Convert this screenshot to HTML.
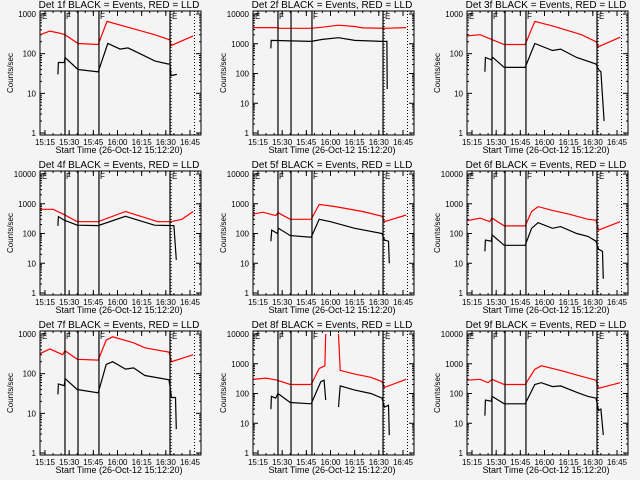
<!DOCTYPE html>
<html><head><meta charset="utf-8">
<style>
html,body{margin:0;padding:0;background:#f4f4f4;}
svg{display:block;font-family:"Liberation Sans",sans-serif;}
</style></head>
<body>
<svg id="chart" width="640" height="480" viewBox="0 0 640 480" xmlns="http://www.w3.org/2000/svg">
<rect x="0" y="0" width="640" height="480" fill="#f4f4f4"/>
</svg>
<script>
// time in minutes relative to 15:15
const panelNames = ["Det 1f","Det 2f","Det 3f","Det 4f","Det 5f","Det 6f","Det 7f","Det 8f","Det 9f"];
const panelDecades = [3,4,3,4,4,4,3,4,4];
const xTickLabels = ["15:15","15:30","15:45","16:00","16:15","16:30","16:45"];
const xTickTimes = [0,15,30,45,60,75,90];
const solidLineTimes = [12.4,20.5,33.5,77.6];
const dottedLineTimes = [78.3,92.8];
const redTimes = [
 [-3,3,9,12.4,20.5,33,38.5,52.8,68,76.5,77.6,78.2,92],
 [-3,12,12.4,33,40,50,60,65,78,92],
 [-3,5,12,20,33,39,50,68,77,78.5,92],
 [-3,5,12,20,33,50,70,78,85,92],
 [-3,3,11,12.4,20,33,38,48,65,77,78.5,92],
 [-3,5,11,12.4,20,33,37,41,50,60,72,77,78.5,92],
 [-3,3,11,12.4,20,33,38,42,55,62,77,78.5,92],
 [-3,5,12,20,33,38,41.5,42,null,50,51,60,70,77,78.5,92],
 [-3,5,10,12.4,20,33,39,43,55,68,77,78.5,92]
];
const redValues = [
 [300,370,330,300,180,170,650,450,300,230,220,160,280],
 [3500,3500,3300,3300,3600,4200,3800,3400,3300,3500],
 [280,300,230,170,170,650,500,300,200,150,260],
 [650,650,430,250,250,550,250,250,300,550],
 [450,520,400,500,300,300,950,800,550,380,250,420],
 [270,330,250,330,180,180,550,800,600,450,300,280,130,250],
 [320,420,300,380,230,220,700,850,600,450,350,200,300],
 [300,330,280,200,200,700,850,10000,null,10000,600,450,350,250,160,300],
 [280,300,230,300,200,200,650,850,600,380,280,150,230]
];
const blackTimes = [
 [8,8.3,12,12.4,20.5,33,39,46.6,51.5,59,68.3,76.4,77.6,78.2,81.9],
 [8,8.2,33,40,50,60,78,80,80.2],
 [8,8.3,12,13,20,33,39,50,55,65,77,78.5,80,82],
 [8,8.3,12,20,33,50,68,80,81.5],
 [8,8.5,12,12.8,20,33,38,45,60,77,78.5,81,81.5],
 [8,8.3,12,12.5,20,33,37,41,50,55,65,72,77,78.5,81,81.5],
 [8,8.3,12,12.5,20,33,38,42,50,55,62,77,78.5,81,81.5],
 [8,8.3,11,12.4,20,33,39,41,42,null,50,51,60,70,77,78.5,81,81.5],
 [8,8.3,12,12.5,20,33,39,43,50,55,65,72,77,78.5,80,81.5]
];
const blackValues = [
 [30,60,60,80,40,35,180,130,140,100,65,55,55,28,30],
 [700,1300,1200,1400,1600,1300,1200,1200,30],
 [35,80,70,80,45,45,180,120,130,80,55,40,35,2],
 [180,370,280,190,185,380,190,185,13],
 [55,130,100,150,85,75,300,250,150,100,60,55,10],
 [25,60,55,90,40,40,150,230,150,170,100,80,55,30,25,3],
 [30,55,50,75,40,33,170,200,130,140,90,70,25,25,4],
 [30,80,70,100,50,45,250,280,60,null,35,180,130,100,70,35,40,4],
 [18,60,55,80,45,45,200,230,170,180,110,80,70,27,30,4]
];

const NS="http://www.w3.org/2000/svg";
const svg=document.getElementById('chart');
function mk(tag,attrs,parent){const e=document.createElementNS(NS,tag);for(const k in attrs)e.setAttribute(k,attrs[k]);(parent||svg).appendChild(e);return e;}
const colOff=[0,213,427], rowOff=[0,160,320];
const BL=40,BR=201,BT=11,BB=135;
function xScale(t){return 45+t*1.611;}
function yScale(v,dec){return 133-Math.log10(v)*(119/dec);}
function pathFrom(ts,vs,dec){
  let d="",pen=false;
  for(let i=0;i<ts.length;i++){
    if(ts[i]===null||vs[i]===null){pen=false;continue;}
    const x=xScale(ts[i]).toFixed(1),y=Math.max(BT,Math.min(BB,yScale(vs[i],dec))).toFixed(1);
    d+=(pen?"L":"M")+x+" "+y+" ";pen=true;
  }
  return d;
}
for(let p=0;p<9;p++){
  const dec=panelDecades[p];
  const g=mk('g',{transform:`translate(${colOff[p%3]},${rowOff[Math.floor(p/3)]})`});
  
  
  const title=mk('text',{x:119,y:8,'font-size':'10','text-anchor':'middle',fill:'#000'},g);
  title.textContent=panelNames[p]+" BLACK = Events, RED = LLD";
  
  
  const yl=mk('text',{x:0,y:0,'font-size':'8','text-anchor':'middle',transform:'translate(13,73) rotate(-90)'},g);
  yl.textContent="Counts/sec";
  
  
  const xl=mk('text',{x:119,y:153,'font-size':'9','text-anchor':'middle'},g);
  xl.textContent="Start Time (26-Oct-12 15:12:20)";
  
  
  // y ticks
  for(let k=0;k<=dec;k++){
    const y=yScale(Math.pow(10,k),dec);
    const t=mk('text',{x:36,y:(y+3).toFixed(1),'font-size':'8','text-anchor':'end'},g);
    t.textContent=String(Math.pow(10,k));
    
    
    mk('line',{x1:BL,x2:BL+5,y1:y,y2:y,stroke:'#000','stroke-width':1},g);
    mk('line',{x1:BR-5,x2:BR,y1:y,y2:y,stroke:'#000','stroke-width':1},g);
    if(k<dec){for(let m=2;m<10;m++){const ym=yScale(m*Math.pow(10,k),dec);
      mk('line',{x1:BL,x2:BL+2,y1:ym,y2:ym,stroke:'#000'},g);mk('line',{x1:BR-2,x2:BR,y1:ym,y2:ym,stroke:'#000'},g);}}
  }
  // x ticks
  for(let i=0;i<xTickTimes.length;i++){
    const x=xScale(xTickTimes[i]);
    mk('line',{x1:x,x2:x,y1:BB,y2:BB-5,stroke:'#000'},g);
    mk('line',{x1:x,x2:x,y1:BT,y2:BT+5,stroke:'#000'},g);
    const t=mk('text',{x:x.toFixed(1),y:145,'font-size':'8','text-anchor':'middle'},g);
    t.textContent=xTickLabels[i];
    
    
  }
  for(let tm=-5;tm<=95;tm+=5){const x=xScale(tm);if(x<BL||x>BR)continue;
    mk('line',{x1:x,x2:x,y1:BB,y2:BB-2,stroke:'#000'},g);mk('line',{x1:x,x2:x,y1:BT,y2:BT+2,stroke:'#000'},g);}
  // series
  const rp=mk('path',{d:pathFrom(redTimes[p],redValues[p],dec),fill:'none',stroke:'#ff0000','stroke-width':1.2},g);
  
  
  const bp=mk('path',{d:pathFrom(blackTimes[p],blackValues[p],dec),fill:'none',stroke:'#000','stroke-width':1.2},g);
  
  
  // vertical lines
  solidLineTimes.forEach(t=>{const x=xScale(t);mk('line',{x1:x,x2:x,y1:BT,y2:BB,stroke:'#000','stroke-width':1.2},g);});
  dottedLineTimes.forEach(t=>{const x=xScale(t);mk('line',{x1:x,x2:x,y1:BT,y2:BB,stroke:'#000','stroke-width':1,'stroke-dasharray':'1,2'},g);});
  [["E",BL+2],["F",xScale(solidLineTimes[0])+1],["F",xScale(solidLineTimes[2])+1],["E",xScale(solidLineTimes[3])+2]].forEach(a=>{
    const t=mk('text',{x:a[1],y:BT+8,'font-size':'8'},g);t.textContent=a[0];
    
    
  });
  // box
  mk('rect',{x:BL,y:BT,width:BR-BL,height:BB-BT,fill:'none',stroke:'#000','stroke-width':1},g);
}
</script>
</body></html>
